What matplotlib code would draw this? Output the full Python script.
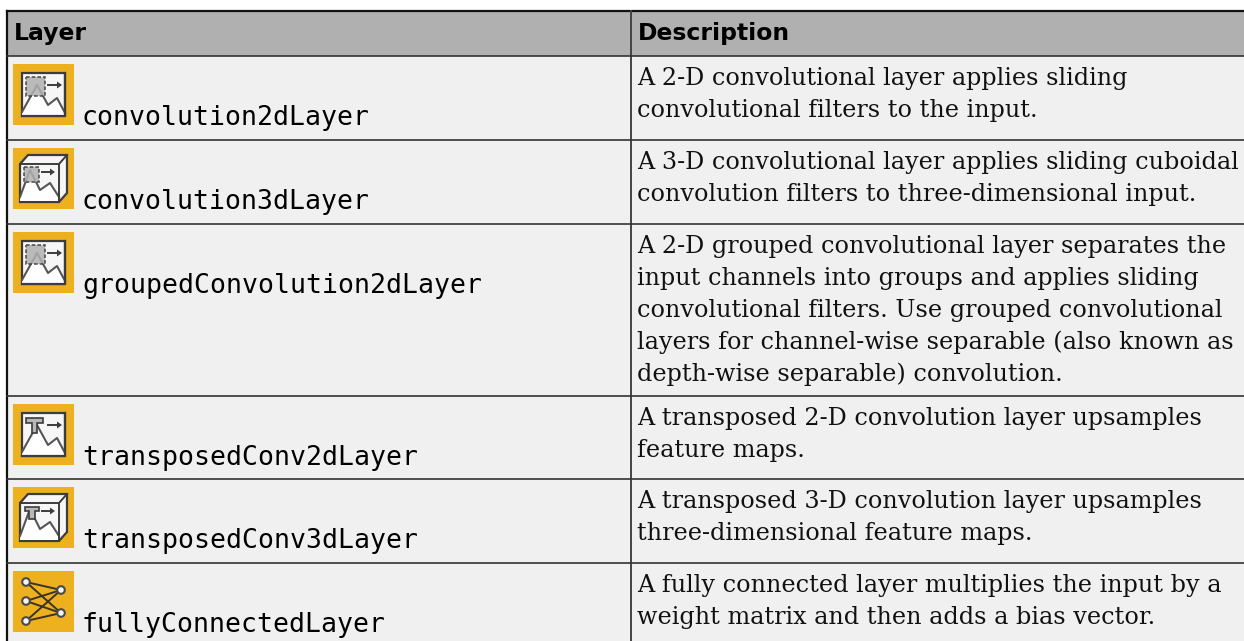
import matplotlib
matplotlib.use('Agg')
import matplotlib.pyplot as plt
from matplotlib.patches import Rectangle, Polygon, Circle

# table content
headers = ['Layer', 'Description']
layers = ['convolution2dLayer', 'convolution3dLayer', 'groupedConvolution2dLayer',
          'transposedConv2dLayer', 'transposedConv3dLayer', 'fullyConnectedLayer']
icons = ['conv2d', 'conv3d', 'conv2d', 'trans2d', 'trans3d', 'fc']
descriptions = [
    ['A 2-D convolutional layer applies sliding',
     'convolutional filters to the input.'],
    ['A 3-D convolutional layer applies sliding cuboidal',
     'convolution filters to three-dimensional input.'],
    ['A 2-D grouped convolutional layer separates the',
     'input channels into groups and applies sliding',
     'convolutional filters. Use grouped convolutional',
     'layers for channel-wise separable (also known as',
     'depth-wise separable) convolution.'],
    ['A transposed 2-D convolution layer upsamples',
     'feature maps.'],
    ['A transposed 3-D convolution layer upsamples',
     'three-dimensional feature maps.'],
    ['A fully connected layer multiplies the input by a',
     'weight matrix and then adds a bias vector.'],
]

# layout in pixels
W, H = 1244, 641
left, divider = 6.7, 631
top, header_bottom = 11.3, 56
row_bottoms = [140, 223.5, 395.5, 479, 562.7, 660]
line_h = 32
DARK = '#3c3c3c'
LINE = '#555555'


def frame_2d(ax, x, y):
    ax.add_patch(Rectangle((x + 9, y + 9), 43, 43, fc='#f6f6f6', ec=DARK, lw=1.6, zorder=3))
    ax.add_patch(Polygon([(x + 9, y + 48), (x + 24, y + 21), (x + 35, y + 41), (x + 44, y + 34),
                          (x + 52, y + 49), (x + 52, y + 52), (x + 9, y + 52)],
                         fc='white', ec='none', zorder=4))
    ax.plot([x + 9, x + 24, x + 35, x + 44, x + 52], [y + 48, y + 21, y + 41, y + 34, y + 49],
            color=LINE, lw=1.5, zorder=5)
    ax.plot([x + 9, x + 52, x + 52], [y + 52, y + 52, y + 9], color=DARK, lw=1.6, zorder=5)


def frame_3d(ax, x, y):
    ax.add_patch(Polygon([(x + 7, y + 16), (x + 15, y + 7), (x + 54, y + 7), (x + 54, y + 45),
                          (x + 46, y + 54), (x + 7, y + 54)], fc='#f6f6f6', ec=DARK, lw=1.6, zorder=3))
    ax.plot([x + 7, x + 46, x + 54], [y + 16, y + 16, y + 7], color=DARK, lw=1.4, zorder=6)
    ax.plot([x + 46, x + 46], [y + 16, y + 54], color=DARK, lw=1.4, zorder=6)
    ax.add_patch(Polygon([(x + 7, y + 49), (x + 17, y + 22), (x + 27, y + 42), (x + 37, y + 35),
                          (x + 46, y + 49), (x + 46, y + 53), (x + 7, y + 53)],
                         fc='white', ec='none', zorder=4))
    ax.plot([x + 7, x + 17, x + 27, x + 37, x + 46], [y + 49, y + 22, y + 42, y + 35, y + 49],
            color=LINE, lw=1.5, zorder=5)


def arrow(ax, x0, x1, y):
    ax.plot([x0, x1 - 3], [y, y], color=DARK, lw=1.4, zorder=7)
    ax.add_patch(Polygon([(x1, y), (x1 - 5, y - 3.5), (x1 - 5, y + 3.5)], fc=DARK, ec='none', zorder=7))


def t_shape(ax, x0, x1, s0, s1, y0, y1, y2):
    ax.add_patch(Polygon([(x0, y0), (x1, y0), (x1, y1), (s1, y1), (s1, y2), (s0, y2), (s0, y1), (x0, y1)],
                         fc='#b8b8b8', ec=DARK, lw=1.2, zorder=7))


def draw_icon(ax, kind, x, y):
    ax.add_patch(Rectangle((x, y), 61, 61, fc='#edb120', ec='none', zorder=2))
    if kind == 'conv2d':
        frame_2d(ax, x, y)
        ax.add_patch(Rectangle((x + 13, y + 13), 19, 19, fc='#b0b0b0', alpha=0.85, ec=DARK,
                               lw=1.2, ls=(0, (2.2, 1.2)), zorder=7))
        arrow(ax, x + 35, x + 49, y + 21)
    elif kind == 'conv3d':
        frame_3d(ax, x, y)
        ax.add_patch(Rectangle((x + 11, y + 19), 15, 15, fc='#b0b0b0', alpha=0.85, ec=DARK,
                               lw=1.2, ls=(0, (2.2, 1.2)), zorder=7))
        arrow(ax, x + 29, x + 42, y + 24)
    elif kind == 'trans2d':
        frame_2d(ax, x, y)
        t_shape(ax, x + 13, x + 30, x + 19, x + 24, y + 14, y + 19, y + 29)
        arrow(ax, x + 35, x + 49, y + 21)
    elif kind == 'trans3d':
        frame_3d(ax, x, y)
        t_shape(ax, x + 12, x + 26, x + 16, x + 22, y + 20, y + 24, y + 32)
        arrow(ax, x + 29, x + 42, y + 24)
    else:
        lefts = [(x + 13, y + 11), (x + 13, y + 30), (x + 13, y + 50)]
        rights = [(x + 48, y + 19), (x + 48, y + 42)]
        for a in lefts:
            for b in rights:
                ax.plot([a[0], b[0]], [a[1], b[1]], color='#3a3326', lw=1.4, zorder=3)
        for p in lefts + rights:
            ax.add_patch(Circle(p, 3.8, fc='#f4f4f4', ec='#4a4a4a', lw=1.5, zorder=4))


fig = plt.figure(figsize=(W / 100, H / 100), dpi=100)
ax = fig.add_axes([0, 0, 1, 1])
ax.set_xlim(0, W)
ax.set_ylim(H, 0)
ax.axis('off')

# backgrounds
ax.add_patch(Rectangle((left, top), W - left, header_bottom - top, fc='#b0b0b0', ec='none', zorder=0))
ax.add_patch(Rectangle((left, header_bottom), W - left, H - header_bottom, fc='#f0f0f0', ec='none', zorder=0))

# grid lines
ax.plot([left, W], [top, top], color='#111111', lw=1.6, zorder=8)
ax.plot([left, left], [top, H], color='#111111', lw=1.6, zorder=8)
ax.plot([divider, divider], [top, H], color='#444444', lw=1.4, zorder=8)
ax.plot([left, W], [header_bottom, header_bottom], color='#333333', lw=1.2, zorder=8)
for b in row_bottoms[:-1]:
    ax.plot([left, W], [b, b], color='#333333', lw=1.2, zorder=8)

# header text
ax.text(14, 40, headers[0], family='DejaVu Sans', weight='bold', fontsize=16.9, va='baseline', ha='left')
ax.text(638, 40, headers[1], family='DejaVu Sans', weight='bold', fontsize=16.9, va='baseline', ha='left')

# rows
tops = [header_bottom] + row_bottoms[:-1]
for i, name in enumerate(layers):
    icon_y = round(tops[i] + 8.3)
    draw_icon(ax, icons[i], 13, icon_y)
    ax.text(82, icon_y + 61, name, family='DejaVu Sans Mono', fontsize=19.1, va='baseline', ha='left', color='black')
    for j, line in enumerate(descriptions[i]):
        ax.text(637, tops[i] + 29 + j * line_h, line, family='DejaVu Serif', fontsize=17.2,
                va='baseline', ha='left', color='#111111')

fig.savefig('out.png', dpi=100)
